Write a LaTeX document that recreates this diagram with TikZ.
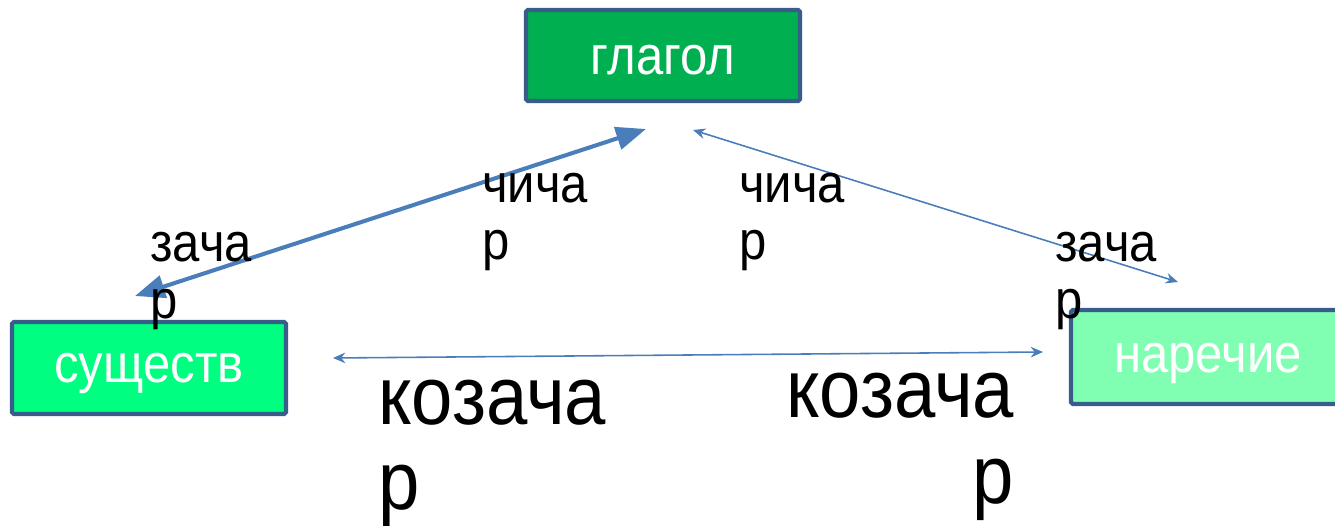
\documentclass[tikz,border=0pt]{standalone}
\usepackage{fontspec}
\setmainfont[FakeStretch=0.9]{Liberation Sans}
\usetikzlibrary{arrows.meta}
\definecolor{boxline}{RGB}{56,93,138}
\definecolor{fillA}{RGB}{0,176,80}
\definecolor{fillB}{RGB}{0,255,128}
\definecolor{fillC}{RGB}{128,255,178}
\definecolor{arrowblue}{RGB}{74,126,187}
\tikzset{
  wordbox/.style={draw=boxline, line width=2.4pt, rounded corners=1pt, text=white,
    minimum width=274*0.02cm, minimum height=92*0.02cm, inner sep=0pt, text depth=0pt,
    font=\fontsize{31pt}{33pt}\selectfont},
  smalllbl/.style={inner sep=0pt, anchor=base west, align=left,
    font=\fontsize{31pt}{32.5pt}\selectfont},
  biglbl/.style={inner sep=0pt, anchor=base west,
    font=\fontsize{47pt}{48.5pt}\selectfont},
  thickarrow/.style={draw=arrowblue, line width=2.3pt,
    {Triangle[length=17pt,width=13pt]}-{Triangle[length=17pt,width=13pt]}},
  thinarrow/.style={draw=arrowblue, line width=0.9pt,
    {Stealth[length=7pt,width=6pt]}-{Stealth[length=7pt,width=6pt]}}
}
\begin{document}
\begin{tikzpicture}[x=0.02cm, y=-0.02cm]
\useasboundingbox (0,0) rectangle (1335,526);
\clip (0,0) rectangle (1335,526);
\fill[white] (0,0) rectangle (1335,526);
% boxes
\node[wordbox, fill=fillA, minimum height=91*0.02cm, text height=22pt] (glagol) at (663,55.5) {глагол};
\node[wordbox, fill=fillB, text height=17pt] (sush) at (149,368) {существ};
\node[wordbox, fill=fillC, minimum height=94*0.02cm, text height=18.2pt] (narech) at (1208,357) {наречие};
% arrow end points
\coordinate (a1) at (135,296);
\coordinate (a2) at (646,129);
\coordinate (b1) at (693,130);
\coordinate (b2) at (1178,282);
\coordinate (c1) at (333,358);
\coordinate (c2) at (1043,352);
\draw[thickarrow] (a1) -- (a2);
\draw[thinarrow] (b1) -- (b2);
\draw[thinarrow] (c1) -- (c2);
% labels (anchor = baseline of the last line)
\node[smalllbl] (l1) at (150,319) {зача\\р};
\node[smalllbl] (l2) at (482,260) {чича\\р};
\node[smalllbl] (l3) at (739,260) {чича\\р};
\node[smalllbl] (l4) at (1055,319) {зача\\р};
\node[biglbl, align=left] (k1) at (378,510) {козача\\р};
\node[biglbl, align=right] (k2) at (786,503) {козача\\р};
\end{tikzpicture}
\end{document}
